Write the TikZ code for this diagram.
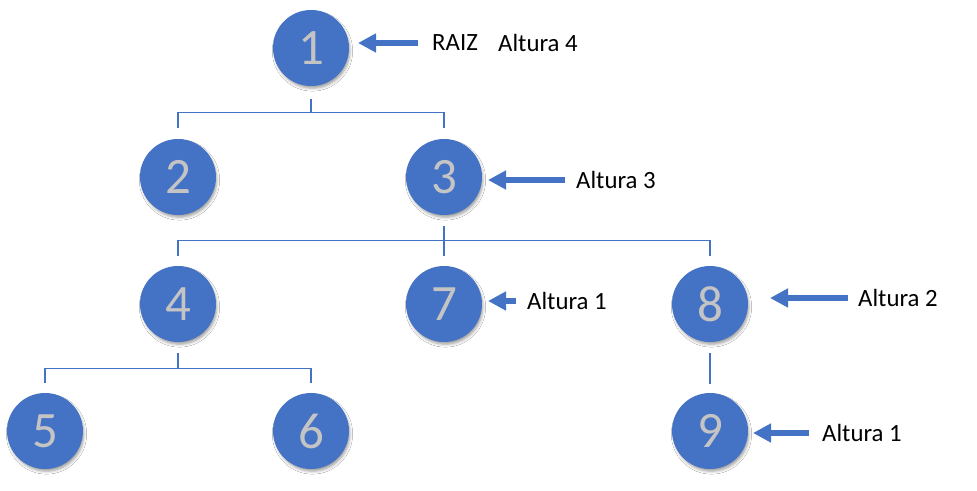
\documentclass[tikz,border=0pt]{standalone}
\usepackage{fontspec}
\setmainfont{Carlito}
\usetikzlibrary{arrows.meta,shadows.blur}
\definecolor{nodeblue}{HTML}{4472C4}
\definecolor{digitgray}{HTML}{C4C4C4}
\tikzset{
  treenode/.style={circle, fill=nodeblue, minimum size=76pt, inner sep=0pt,
    text=digitgray, font=\fontsize{51}{51}\selectfont,
    blur shadow={shadow xshift=1.5pt, shadow yshift=-3pt, shadow blur radius=3pt, shadow opacity=40, shadow scale=0.98}},
  conn/.style={draw=nodeblue, line width=1.2pt},
  arr/.style={draw=nodeblue, line width=5.5pt, -{Triangle[length=18pt,width=18pt]}},
  lab/.style={anchor=west, inner sep=0pt, font=\fontsize{24.8}{28}\selectfont, text=black}
}
\begin{document}
\begin{tikzpicture}[x=1pt,y=1pt]
\useasboundingbox[fill=white] (0,0) rectangle (977,490);
% nodes
\node[treenode] (n1) at (311,442) {1};
\node[treenode] (n2) at (178,313) {2};
\node[treenode] (n3) at (444,313) {3};
\node[treenode] (n4) at (178,186) {4};
\node[treenode] (n7) at (444,186) {7};
\node[treenode] (n8) at (710,186) {8};
\node[treenode] (n5) at (45,59) {5};
\node[treenode] (n6) at (311,59) {6};
\node[treenode] (n9) at (710,59) {9};
% tree connectors
\draw[conn] ([yshift=-13pt]n1.south) -- ++(0,-14);
\draw[conn] ([yshift=11pt]n2.north) -- ++(0,15) -| ([yshift=11pt]n3.north);
\draw[conn] ([yshift=-11pt]n3.south) -- ++(0,-15);
\draw[conn] ([yshift=10pt]n4.north) -- ++(0,15) -| ([yshift=10pt]n8.north);
\draw[conn] ([yshift=10pt]n7.north) -- ++(0,15);
\draw[conn] ([yshift=-11pt]n4.south) -- ++(0,-16);
\draw[conn] ([yshift=10pt]n5.north) -- ++(0,14) -| ([yshift=10pt]n6.north);
\draw[conn] ([yshift=-11pt]n8.south) -- ([yshift=9pt]n9.north);
% labels
\node[lab] (lraiz) at (432,447) {RAIZ};
\node[lab] (l1) at (498,447) {Altura 4};
\node[lab] (l3) at (576,310) {Altura 3};
\node[lab] (l7) at (527,189) {Altura 1};
\node[lab] (l8) at (858,192) {Altura 2};
\node[lab] (l9) at (822,57) {Altura 1};
% arrow tips
\coordinate (t1) at (358,447);
\coordinate (t3) at (488,310);
\coordinate (t7) at (488,189);
\coordinate (t8) at (770,192);
\coordinate (t9) at (753,57);
\draw[arr] ([xshift=-14pt]lraiz.west) -- (t1);
\draw[arr] ([xshift=-11pt]l3.west) -- (t3);
\draw[arr] ([xshift=-11pt]l7.west) -- (t7);
\draw[arr] ([xshift=-10pt]l8.west) -- (t8);
\draw[arr] ([xshift=-13pt]l9.west) -- (t9);
\end{tikzpicture}
\end{document}
